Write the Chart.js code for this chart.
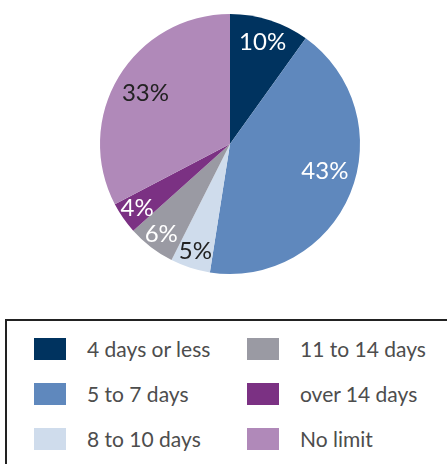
<!DOCTYPE html>
<html>
<head>
<meta charset="utf-8">
<script src="https://cdn.jsdelivr.net/npm/chart.js@4"></script>
<style>
  body { margin: 0; background: #fff; width: 447px; height: 464px; overflow: hidden; position: relative; font-family: Lato, "Open Sans", sans-serif; }
  #chartWrap { position: absolute; left: 0; top: 0; width: 447px; height: 290px; }
  #legend { position: absolute; left: 5px; top: 319px; width: 460px; height: 160px; border: 2px solid #222; box-sizing: border-box; }
  .item { position: absolute; height: 22px; color: #4d4d4d; font-size: 21px; font-weight: 400; line-height: 22px; white-space: nowrap; }
  .swatch { position: absolute; left: 0; top: 0; width: 32px; height: 22px; }
  .item span { position: absolute; left: 53px; top: 0; }
</style>
</head>
<body>
<div id="chartWrap"><canvas id="pieChart"></canvas></div>
<div id="legend"></div>
<script>
// data
const categories = ["4 days or less", "5 to 7 days", "8 to 10 days", "11 to 14 days", "over 14 days", "No limit"];
const shares = [10, 43, 5, 6, 4, 33];
const sliceColors = ["#00335f", "#5f88bd", "#cfdcec", "#9a9aa3", "#7b3183", "#b089b9"];
const labelColors = ["#ffffff", "#ffffff", "#222222", "#ffffff", "#ffffff", "#222222"];

// percent labels inside slices
const sliceLabels = {
  id: "sliceLabels",
  afterDatasetsDraw(chart) {
    const ctx = chart.ctx;
    const arcs = chart.getDatasetMeta(0).data;
    ctx.save();
    ctx.font = "400 24px Lato, 'Open Sans', sans-serif";
    ctx.textAlign = "center";
    ctx.textBaseline = "middle";
    arcs.forEach((arc, i) => {
      const p = arc.getProps(["x", "y", "startAngle", "endAngle", "outerRadius"], true);
      // big slices: pull the label a bit toward the slice start
      const t = shares[i] > 40 ? 0.46 : 0.5;
      const mid = p.startAngle + (p.endAngle - p.startAngle) * t;
      const f = shares[i] < 8 ? 0.87 : shares[i] < 20 ? 0.82 : 0.76;
      ctx.fillStyle = labelColors[i];
      ctx.fillText(shares[i] + "%", p.x + Math.cos(mid) * p.outerRadius * f, p.y + Math.sin(mid) * p.outerRadius * f);
    });
    ctx.restore();
  }
};

new Chart(document.getElementById("pieChart"), {
  type: "pie",
  data: {
    labels: categories,
    datasets: [{
      data: shares,
      backgroundColor: sliceColors,
      borderWidth: 0
    }]
  },
  options: {
    responsive: true,
    maintainAspectRatio: false,
    animation: false,
    layout: { padding: { left: 13, right: 0, top: 14, bottom: 16 } },
    plugins: {
      legend: { display: false },
      tooltip: { enabled: false }
    }
  },
  plugins: [sliceLabels]
});

// legend, column by column, 3 rows each
const legendEl = document.getElementById("legend");
categories.forEach((name, i) => {
  const col = Math.floor(i / 3), row = i % 3;
  const item = document.createElement("div");
  item.className = "item";
  item.style.left = (27 + col * 213) + "px";
  item.style.top = (17 + row * 45) + "px";
  item.innerHTML = '<div class="swatch" style="background:' + sliceColors[i] + '"></div><span>' + name + '</span>';
  legendEl.appendChild(item);
});
</script>
</body>
</html>
